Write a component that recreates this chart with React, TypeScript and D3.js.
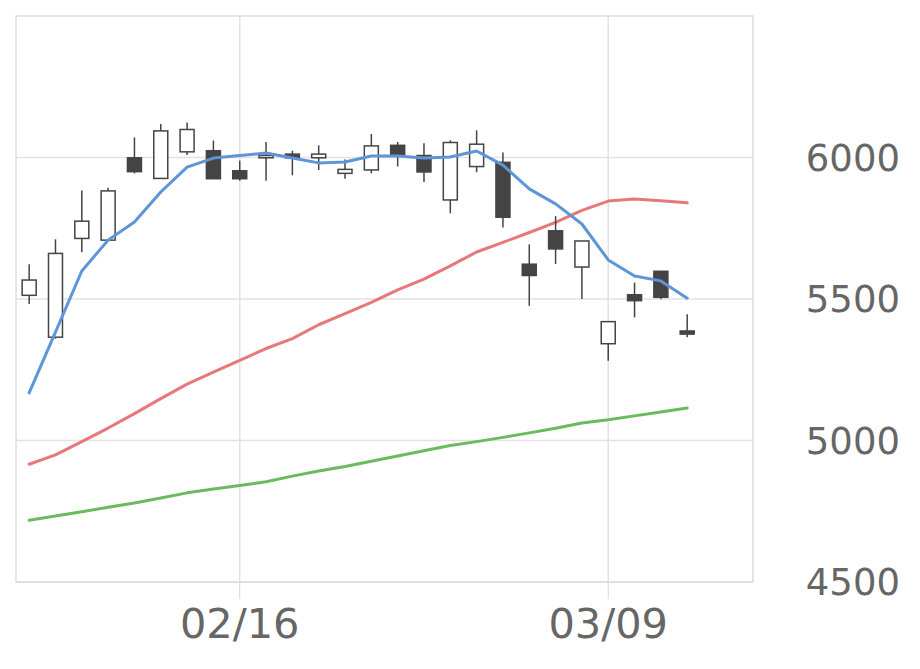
import React from "react";
import * as d3 from "d3";

const dates = [
  "02/03", "02/04", "02/05", "02/08", "02/09", "02/10", "02/12", "02/15",
  "02/16", "02/17", "02/18", "02/19", "02/22", "02/24", "02/25", "02/26",
  "03/01", "03/02", "03/03", "03/04", "03/05", "03/08", "03/09", "03/10",
  "03/11", "03/12", "03/15", "03/16",
];
const xTickLabels = ["02/16", "03/09"];
const yTicks = [4500, 5000, 5500, 6000];

const opens = [5513, 5365, 5714, 5708, 5999, 5926, 6020, 6024, 5953, 5999, 6012, 5999, 5944, 5956, 6043, 6007, 5850, 5968, 5983, 5623, 5741, 5613, 5342, 5515, 5598, 5387];
const highs = [5623, 5711, 5883, 5893, 6071, 6118, 6124, 6060, 5989, 6055, 6024, 6043, 5993, 6083, 6055, 6050, 6061, 6096, 6018, 5693, 5793, 5705, 5420, 5558, 5598, 5446];
const lows = [5482, 5360, 5665, 5705, 5944, 5926, 6009, 5925, 5918, 5918, 5937, 5956, 5925, 5944, 5968, 5913, 5803, 5948, 5753, 5476, 5624, 5500, 5282, 5435, 5499, 5365];
const closes = [5567, 5661, 5775, 5882, 5950, 6094, 6099, 5925, 5925, 6007, 5999, 6012, 5958, 6041, 6009, 5949, 6053, 6047, 5789, 5583, 5677, 5705, 5420, 5494, 5506, 5376];

const maShort = [5168, 5383, 5599, 5708, 5772, 5878, 5966, 5998, 6007, 6016, 5998, 5981, 5984, 6005, 6005, 5998, 6002, 6023, 5973, 5889, 5836, 5765, 5638, 5581, 5564, 5503];
const maMid = [4916, 4949, 4996, 5044, 5095, 5148, 5199, 5242, 5283, 5325, 5360, 5409, 5448, 5488, 5532, 5570, 5617, 5666, 5700, 5735, 5771, 5813, 5846, 5853, 5847, 5840];
const maLong = [4718, 4733, 4748, 4764, 4779, 4797, 4815, 4829, 4841, 4854, 4874, 4892, 4908, 4927, 4945, 4964, 4982, 4996, 5011, 5027, 5043, 5062, 5073, 5087, 5101, 5115];

const W = 920;
const H = 669;
const L = 16, R = 753, T = 16, B = 582;

export default function App() {
  const xb = d3.scaleBand<string>().domain(dates).range([L, R]).padding(0);
  const cx = (i: number) => (xb(dates[i]) as number) + xb.bandwidth() / 2;
  const y = d3.scaleLinear().domain([4500, 6500]).range([B, T]);
  const bodyW = 14;

  const line = d3
    .line<number>()
    .x((_, i) => cx(i))
    .y((d) => y(d));

  const font = "'DejaVu Sans', sans-serif";
  const ink = "#444444";

  return (
    <div style={{ position: "absolute", left: 0, top: 0 }}>
      <svg width={W} height={H} style={{ display: "block", background: "#fff" }}>
        {yTicks.map((t) => (
          <line key={"g" + t} x1={L} x2={R} y1={y(t)} y2={y(t)} stroke="#e2e2e2" strokeWidth={1.5} />
        ))}
        {xTickLabels.map((d) => (
          <line key={"v" + d} x1={cx(dates.indexOf(d))} x2={cx(dates.indexOf(d))} y1={T} y2={B} stroke="#e2e2e2" strokeWidth={1.5} />
        ))}
        <rect x={L} y={T} width={R - L} height={B - T} fill="none" stroke="#dddddd" strokeWidth={1.5} />
        {xTickLabels.map((d) => (
          <line key={"t" + d} x1={cx(dates.indexOf(d))} x2={cx(dates.indexOf(d))} y1={B} y2={B + 17} stroke="#ccd6eb" strokeWidth={1} />
        ))}
        <path d={line(maLong) as string} fill="none" stroke="#6aba5e" strokeWidth={3} strokeLinejoin="round" strokeLinecap="round" />
        <path d={line(maMid) as string} fill="none" stroke="#e8777a" strokeWidth={3} strokeLinejoin="round" strokeLinecap="round" />
        {opens.map((o, i) => {
          const c = closes[i];
          const up = c >= o;
          const top = y(Math.max(o, c));
          const bot = y(Math.min(o, c));
          const x = cx(i);
          return (
            <g key={"c" + i}>
              <line x1={x} x2={x} y1={y(highs[i])} y2={y(lows[i])} stroke={ink} strokeWidth={1.5} />
              <rect
                x={x - bodyW / 2}
                y={top}
                width={bodyW}
                height={Math.max(bot - top, 1)}
                fill={up ? "#ffffff" : ink}
                stroke={ink}
                strokeWidth={1.5}
              />
            </g>
          );
        })}
        <path d={line(maShort) as string} fill="none" stroke="#5e94d8" strokeWidth={3} strokeLinejoin="round" strokeLinecap="round" />
        {yTicks.map((t) => (
          <text key={"yl" + t} x={900} y={y(t)} dy="0.36em" textAnchor="end" fontFamily={font} fontSize={37} fill="#666666">
            {t}
          </text>
        ))}
        {xTickLabels.map((d) => (
          <text key={"xl" + d} x={cx(dates.indexOf(d))} y={638} textAnchor="middle" fontFamily={font} fontSize={41.5} fill="#666666">
            {d}
          </text>
        ))}
      </svg>
    </div>
  );
}
